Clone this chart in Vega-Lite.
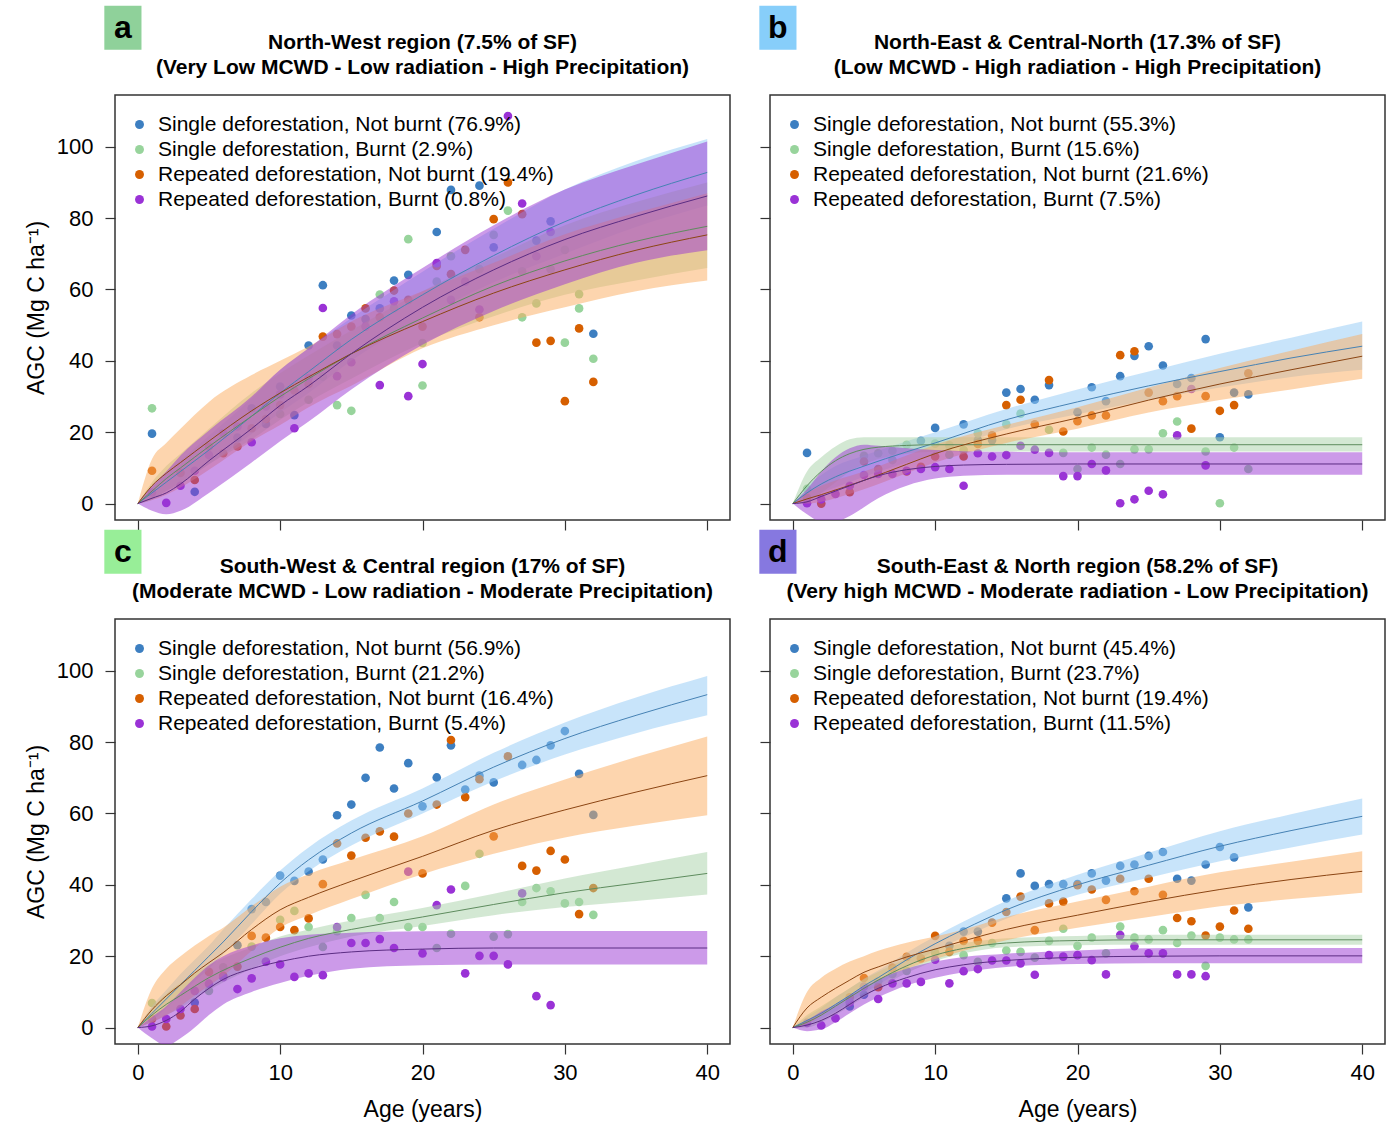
{
"$schema": "https://vega.github.io/schema/vega-lite/v6.json",
"background": "white",
"padding": {"left": 24, "top": 5, "right": 3, "bottom": 0},
"config": {
  "font": "Liberation Sans",
  "view": {"stroke": "#333333", "strokeWidth": 1.5},
  "axis": {"domain": false, "grid": false, "tickColor": "#333333", "tickWidth": 1.2, "tickSize": 10, "labelFontSize": 22, "labelFont": "Liberation Sans", "labelColor": "black", "titleFontSize": 23, "titleFont": "Liberation Sans", "titleFontWeight": "normal", "titleColor": "black"},
  "legend": {"orient": "none", "legendX": 14, "legendY": 19, "padding": 0, "rowPadding": 3, "labelFontSize": 21, "labelFont": "Liberation Sans", "labelColor": "black", "labelLimit": 700, "symbolSize": 80, "symbolType": "circle", "labelOffset": 8, "title": null}
},
"datasets": {
"pts": [
{"p":"a","g":"SN","age":1,"agc":19.6},{"p":"a","g":"SN","age":4,"agc":3.3},{"p":"a","g":"SN","age":7,"agc":18.5},{"p":"a","g":"SN","age":8,"agc":26.7},{"p":"a","g":"SN","age":9,"agc":22.3},{"p":"a","g":"SN","age":10,"agc":32.8},{"p":"a","g":"SN","age":11,"agc":24.8},{"p":"a","g":"SN","age":12,"agc":44.3},{"p":"a","g":"SN","age":13,"agc":61.2},{"p":"a","g":"SN","age":14,"agc":44.3},{"p":"a","g":"SN","age":15,"agc":52.7},{"p":"a","g":"SN","age":16,"agc":51.7},{"p":"a","g":"SN","age":17,"agc":54.7},{"p":"a","g":"SN","age":18,"agc":62.5},{"p":"a","g":"SN","age":19,"agc":64.1},{"p":"a","g":"SN","age":21,"agc":76.1},{"p":"a","g":"SN","age":22,"agc":87.9},{"p":"a","g":"SN","age":24,"agc":89.1},{"p":"a","g":"SN","age":25,"agc":71.8},{"p":"a","g":"SN","age":28,"agc":73.7},{"p":"a","g":"SN","age":29,"agc":79.1},{"p":"a","g":"SN","age":32,"agc":47.6},
{"p":"a","g":"SB","age":1,"agc":26.7},{"p":"a","g":"SB","age":10,"agc":25.1},{"p":"a","g":"SB","age":12,"agc":29.1},{"p":"a","g":"SB","age":13,"agc":35.6},{"p":"a","g":"SB","age":14,"agc":27.6},{"p":"a","g":"SB","age":15,"agc":26},{"p":"a","g":"SB","age":17,"agc":58.6},{"p":"a","g":"SB","age":18,"agc":54.7},{"p":"a","g":"SB","age":19,"agc":74.1},{"p":"a","g":"SB","age":20,"agc":33.1},{"p":"a","g":"SB","age":20,"agc":45},{"p":"a","g":"SB","age":21,"agc":62.2},{"p":"a","g":"SB","age":22,"agc":69.3},{"p":"a","g":"SB","age":24,"agc":65.7},{"p":"a","g":"SB","age":25,"agc":75.3},{"p":"a","g":"SB","age":26,"agc":82.1},{"p":"a","g":"SB","age":27,"agc":52.2},{"p":"a","g":"SB","age":27,"agc":65.1},{"p":"a","g":"SB","age":28,"agc":56.1},{"p":"a","g":"SB","age":29,"agc":65.7},{"p":"a","g":"SB","age":30,"agc":45.1},{"p":"a","g":"SB","age":30,"agc":71.1},{"p":"a","g":"SB","age":31,"agc":54.7},{"p":"a","g":"SB","age":31,"agc":58.7},{"p":"a","g":"SB","age":32,"agc":40.6},
{"p":"a","g":"RN","age":1,"agc":9.2},{"p":"a","g":"RN","age":3,"agc":8.6},{"p":"a","g":"RN","age":4,"agc":6.6},{"p":"a","g":"RN","age":5,"agc":16},{"p":"a","g":"RN","age":6,"agc":14.1},{"p":"a","g":"RN","age":7,"agc":16},{"p":"a","g":"RN","age":8,"agc":21.1},{"p":"a","g":"RN","age":9,"agc":23.7},{"p":"a","g":"RN","age":10,"agc":27.6},{"p":"a","g":"RN","age":11,"agc":31.7},{"p":"a","g":"RN","age":12,"agc":33.5},{"p":"a","g":"RN","age":13,"agc":46.8},{"p":"a","g":"RN","age":14,"agc":47.5},{"p":"a","g":"RN","age":15,"agc":49.6},{"p":"a","g":"RN","age":16,"agc":54.7},{"p":"a","g":"RN","age":17,"agc":52.2},{"p":"a","g":"RN","age":18,"agc":59.7},{"p":"a","g":"RN","age":19,"agc":57.1},{"p":"a","g":"RN","age":20,"agc":49.6},{"p":"a","g":"RN","age":21,"agc":66.6},{"p":"a","g":"RN","age":22,"agc":64.3},{"p":"a","g":"RN","age":23,"agc":71.1},{"p":"a","g":"RN","age":24,"agc":52.2},{"p":"a","g":"RN","age":25,"agc":79.7},{"p":"a","g":"RN","age":26,"agc":90},{"p":"a","g":"RN","age":27,"agc":81.1},{"p":"a","g":"RN","age":28,"agc":45.1},{"p":"a","g":"RN","age":29,"agc":45.6},{"p":"a","g":"RN","age":30,"agc":28.7},{"p":"a","g":"RN","age":31,"agc":49.1},{"p":"a","g":"RN","age":32,"agc":34.1},
{"p":"a","g":"RB","age":1,"agc":3.1},{"p":"a","g":"RB","age":2,"agc":0.2},{"p":"a","g":"RB","age":3,"agc":5},{"p":"a","g":"RB","age":4,"agc":9.2},{"p":"a","g":"RB","age":5,"agc":13.6},{"p":"a","g":"RB","age":6,"agc":19.7},{"p":"a","g":"RB","age":7,"agc":21.6},{"p":"a","g":"RB","age":8,"agc":17.2},{"p":"a","g":"RB","age":9,"agc":27.2},{"p":"a","g":"RB","age":10,"agc":30.6},{"p":"a","g":"RB","age":11,"agc":21.1},{"p":"a","g":"RB","age":12,"agc":35.2},{"p":"a","g":"RB","age":13,"agc":54.8},{"p":"a","g":"RB","age":14,"agc":35.7},{"p":"a","g":"RB","age":15,"agc":39.6},{"p":"a","g":"RB","age":16,"agc":49.6},{"p":"a","g":"RB","age":17,"agc":33.2},{"p":"a","g":"RB","age":18,"agc":56.7},{"p":"a","g":"RB","age":19,"agc":30.1},{"p":"a","g":"RB","age":20,"agc":39.1},{"p":"a","g":"RB","age":21,"agc":67.4},{"p":"a","g":"RB","age":22,"agc":57.1},{"p":"a","g":"RB","age":23,"agc":62.2},{"p":"a","g":"RB","age":24,"agc":54.4},{"p":"a","g":"RB","age":26,"agc":108.6},{"p":"a","g":"RB","age":27,"agc":84.1},{"p":"a","g":"RB","age":28,"agc":69.3},{"p":"a","g":"RB","age":29,"agc":76.1},
{"p":"b","g":"SN","age":1,"agc":14.2},{"p":"b","g":"SN","age":9,"agc":17.6},{"p":"b","g":"SN","age":10,"agc":21.2},{"p":"b","g":"SN","age":12,"agc":22.2},{"p":"b","g":"SN","age":13,"agc":17.8},{"p":"b","g":"SN","age":14,"agc":17.8},{"p":"b","g":"SN","age":15,"agc":31.1},{"p":"b","g":"SN","age":16,"agc":32.1},{"p":"b","g":"SN","age":17,"agc":29.1},{"p":"b","g":"SN","age":18,"agc":33.2},{"p":"b","g":"SN","age":20,"agc":25.6},{"p":"b","g":"SN","age":21,"agc":32.6},{"p":"b","g":"SN","age":22,"agc":28.7},{"p":"b","g":"SN","age":23,"agc":35.7},{"p":"b","g":"SN","age":24,"agc":41.4},{"p":"b","g":"SN","age":25,"agc":44.1},{"p":"b","g":"SN","age":26,"agc":38.7},{"p":"b","g":"SN","age":27,"agc":33.5},{"p":"b","g":"SN","age":28,"agc":35.2},{"p":"b","g":"SN","age":29,"agc":46.1},{"p":"b","g":"SN","age":30,"agc":18.6},{"p":"b","g":"SN","age":31,"agc":31.1},{"p":"b","g":"SN","age":32,"agc":30.6},
{"p":"b","g":"SB","age":1,"agc":4.1},{"p":"b","g":"SB","age":5,"agc":13.4},{"p":"b","g":"SB","age":6,"agc":14.1},{"p":"b","g":"SB","age":7,"agc":12.2},{"p":"b","g":"SB","age":7,"agc":14.8},{"p":"b","g":"SB","age":8,"agc":16.5},{"p":"b","g":"SB","age":10,"agc":16.8},{"p":"b","g":"SB","age":11,"agc":16.3},{"p":"b","g":"SB","age":11,"agc":13.7},{"p":"b","g":"SB","age":12,"agc":15},{"p":"b","g":"SB","age":13,"agc":19.7},{"p":"b","g":"SB","age":15,"agc":22.2},{"p":"b","g":"SB","age":16,"agc":25.2},{"p":"b","g":"SB","age":18,"agc":20.7},{"p":"b","g":"SB","age":19,"agc":14.2},{"p":"b","g":"SB","age":20,"agc":9.7},{"p":"b","g":"SB","age":21,"agc":15.7},{"p":"b","g":"SB","age":22,"agc":13.7},{"p":"b","g":"SB","age":23,"agc":11.1},{"p":"b","g":"SB","age":24,"agc":15.2},{"p":"b","g":"SB","age":25,"agc":15.2},{"p":"b","g":"SB","age":26,"agc":19.7},{"p":"b","g":"SB","age":27,"agc":23},{"p":"b","g":"SB","age":29,"agc":14.6},{"p":"b","g":"SB","age":30,"agc":0.1},{"p":"b","g":"SB","age":31,"agc":15.7},{"p":"b","g":"SB","age":32,"agc":9.7},
{"p":"b","g":"RN","age":1,"agc":1.6},{"p":"b","g":"RN","age":2,"agc":0},{"p":"b","g":"RN","age":4,"agc":3.2},{"p":"b","g":"RN","age":5,"agc":11.8},{"p":"b","g":"RN","age":6,"agc":9.7},{"p":"b","g":"RN","age":8,"agc":9},{"p":"b","g":"RN","age":9,"agc":10.3},{"p":"b","g":"RN","age":10,"agc":13.2},{"p":"b","g":"RN","age":12,"agc":13.2},{"p":"b","g":"RN","age":13,"agc":16.7},{"p":"b","g":"RN","age":14,"agc":19.1},{"p":"b","g":"RN","age":15,"agc":27.6},{"p":"b","g":"RN","age":16,"agc":29.1},{"p":"b","g":"RN","age":17,"agc":22.2},{"p":"b","g":"RN","age":18,"agc":34.6},{"p":"b","g":"RN","age":19,"agc":20.2},{"p":"b","g":"RN","age":20,"agc":23.1},{"p":"b","g":"RN","age":21,"agc":24.7},{"p":"b","g":"RN","age":22,"agc":24.7},{"p":"b","g":"RN","age":23,"agc":41.6},{"p":"b","g":"RN","age":24,"agc":42.7},{"p":"b","g":"RN","age":25,"agc":31.1},{"p":"b","g":"RN","age":26,"agc":28.7},{"p":"b","g":"RN","age":27,"agc":30.1},{"p":"b","g":"RN","age":28,"agc":21},{"p":"b","g":"RN","age":29,"agc":30.1},{"p":"b","g":"RN","age":30,"agc":26},{"p":"b","g":"RN","age":31,"agc":27.6},{"p":"b","g":"RN","age":32,"agc":36.5},
{"p":"b","g":"RB","age":1,"agc":0.1},{"p":"b","g":"RB","age":2,"agc":1.2},{"p":"b","g":"RB","age":3,"agc":2.7},{"p":"b","g":"RB","age":4,"agc":5},{"p":"b","g":"RB","age":5,"agc":8},{"p":"b","g":"RB","age":6,"agc":8.3},{"p":"b","g":"RB","age":7,"agc":8.3},{"p":"b","g":"RB","age":8,"agc":9.2},{"p":"b","g":"RB","age":9,"agc":9.7},{"p":"b","g":"RB","age":10,"agc":10.2},{"p":"b","g":"RB","age":11,"agc":9.7},{"p":"b","g":"RB","age":12,"agc":5},{"p":"b","g":"RB","age":13,"agc":14.1},{"p":"b","g":"RB","age":14,"agc":13.2},{"p":"b","g":"RB","age":15,"agc":13.6},{"p":"b","g":"RB","age":16,"agc":16.2},{"p":"b","g":"RB","age":17,"agc":15.1},{"p":"b","g":"RB","age":18,"agc":14.2},{"p":"b","g":"RB","age":19,"agc":7.7},{"p":"b","g":"RB","age":20,"agc":7.7},{"p":"b","g":"RB","age":21,"agc":11.1},{"p":"b","g":"RB","age":22,"agc":9.3},{"p":"b","g":"RB","age":23,"agc":0.1},{"p":"b","g":"RB","age":24,"agc":1.2},{"p":"b","g":"RB","age":25,"agc":3.6},{"p":"b","g":"RB","age":26,"agc":2.6},{"p":"b","g":"RB","age":27,"agc":19.1},{"p":"b","g":"RB","age":28,"agc":32.1},{"p":"b","g":"RB","age":29,"agc":10.7},
{"p":"c","g":"SN","age":4,"agc":7},{"p":"c","g":"SN","age":7,"agc":23.1},{"p":"c","g":"SN","age":8,"agc":33.2},{"p":"c","g":"SN","age":9,"agc":35.2},{"p":"c","g":"SN","age":10,"agc":42.6},{"p":"c","g":"SN","age":11,"agc":41.1},{"p":"c","g":"SN","age":12,"agc":43.7},{"p":"c","g":"SN","age":13,"agc":47.1},{"p":"c","g":"SN","age":14,"agc":59.5},{"p":"c","g":"SN","age":15,"agc":62.5},{"p":"c","g":"SN","age":16,"agc":70},{"p":"c","g":"SN","age":17,"agc":78.5},{"p":"c","g":"SN","age":18,"agc":67},{"p":"c","g":"SN","age":19,"agc":74.1},{"p":"c","g":"SN","age":20,"agc":62},{"p":"c","g":"SN","age":21,"agc":70.1},{"p":"c","g":"SN","age":22,"agc":79.1},{"p":"c","g":"SN","age":23,"agc":66.7},{"p":"c","g":"SN","age":24,"agc":70.6},{"p":"c","g":"SN","age":25,"agc":68.7},{"p":"c","g":"SN","age":27,"agc":73.6},{"p":"c","g":"SN","age":28,"agc":75},{"p":"c","g":"SN","age":29,"agc":79.1},{"p":"c","g":"SN","age":30,"agc":83.1},{"p":"c","g":"SN","age":31,"agc":71.1},{"p":"c","g":"SN","age":32,"agc":59.6},
{"p":"c","g":"SB","age":1,"agc":6.9},{"p":"c","g":"SB","age":5,"agc":10.3},{"p":"c","g":"SB","age":6,"agc":16.9},{"p":"c","g":"SB","age":8,"agc":22.7},{"p":"c","g":"SB","age":10,"agc":30.2},{"p":"c","g":"SB","age":11,"agc":32.7},{"p":"c","g":"SB","age":12,"agc":28.2},{"p":"c","g":"SB","age":13,"agc":22.6},{"p":"c","g":"SB","age":14,"agc":27},{"p":"c","g":"SB","age":15,"agc":30.7},{"p":"c","g":"SB","age":16,"agc":37.2},{"p":"c","g":"SB","age":17,"agc":30.7},{"p":"c","g":"SB","age":18,"agc":35.2},{"p":"c","g":"SB","age":19,"agc":28.2},{"p":"c","g":"SB","age":20,"agc":28.2},{"p":"c","g":"SB","age":21,"agc":22.3},{"p":"c","g":"SB","age":22,"agc":26.3},{"p":"c","g":"SB","age":23,"agc":39.7},{"p":"c","g":"SB","age":24,"agc":48.7},{"p":"c","g":"SB","age":25,"agc":25.5},{"p":"c","g":"SB","age":26,"agc":26.2},{"p":"c","g":"SB","age":27,"agc":35.2},{"p":"c","g":"SB","age":28,"agc":39.1},{"p":"c","g":"SB","age":29,"agc":38.2},{"p":"c","g":"SB","age":30,"agc":34.8},{"p":"c","g":"SB","age":31,"agc":35.2},{"p":"c","g":"SB","age":32,"agc":31.6},
{"p":"c","g":"RN","age":1,"agc":2.4},{"p":"c","g":"RN","age":2,"agc":0.3},{"p":"c","g":"RN","age":3,"agc":3.4},{"p":"c","g":"RN","age":4,"agc":5.2},{"p":"c","g":"RN","age":5,"agc":15.6},{"p":"c","g":"RN","age":6,"agc":14.5},{"p":"c","g":"RN","age":7,"agc":17.1},{"p":"c","g":"RN","age":8,"agc":25.7},{"p":"c","g":"RN","age":9,"agc":25.2},{"p":"c","g":"RN","age":10,"agc":28.2},{"p":"c","g":"RN","age":11,"agc":27.3},{"p":"c","g":"RN","age":12,"agc":30.6},{"p":"c","g":"RN","age":13,"agc":40.2},{"p":"c","g":"RN","age":14,"agc":51.6},{"p":"c","g":"RN","age":15,"agc":48.2},{"p":"c","g":"RN","age":16,"agc":53.2},{"p":"c","g":"RN","age":17,"agc":55},{"p":"c","g":"RN","age":18,"agc":53.5},{"p":"c","g":"RN","age":19,"agc":60},{"p":"c","g":"RN","age":20,"agc":43.2},{"p":"c","g":"RN","age":21,"agc":62.5},{"p":"c","g":"RN","age":22,"agc":80.6},{"p":"c","g":"RN","age":23,"agc":64.6},{"p":"c","g":"RN","age":24,"agc":69.6},{"p":"c","g":"RN","age":25,"agc":53.6},{"p":"c","g":"RN","age":26,"agc":76},{"p":"c","g":"RN","age":27,"agc":45.3},{"p":"c","g":"RN","age":28,"agc":44},{"p":"c","g":"RN","age":29,"agc":49.5},{"p":"c","g":"RN","age":30,"agc":47.1},{"p":"c","g":"RN","age":31,"agc":31.8},{"p":"c","g":"RN","age":32,"agc":39.1},
{"p":"c","g":"RB","age":1,"agc":0.3},{"p":"c","g":"RB","age":2,"agc":2.4},{"p":"c","g":"RB","age":3,"agc":5.2},{"p":"c","g":"RB","age":4,"agc":10.3},{"p":"c","g":"RB","age":5,"agc":12.3},{"p":"c","g":"RB","age":6,"agc":14.1},{"p":"c","g":"RB","age":7,"agc":10.8},{"p":"c","g":"RB","age":8,"agc":13.8},{"p":"c","g":"RB","age":9,"agc":18.5},{"p":"c","g":"RB","age":10,"agc":17.7},{"p":"c","g":"RB","age":11,"agc":14.2},{"p":"c","g":"RB","age":12,"agc":15.2},{"p":"c","g":"RB","age":13,"agc":14.7},{"p":"c","g":"RB","age":14,"agc":28.2},{"p":"c","g":"RB","age":15,"agc":23.7},{"p":"c","g":"RB","age":16,"agc":23.7},{"p":"c","g":"RB","age":17,"agc":24.8},{"p":"c","g":"RB","age":18,"agc":22.3},{"p":"c","g":"RB","age":19,"agc":43.7},{"p":"c","g":"RB","age":20,"agc":20.8},{"p":"c","g":"RB","age":21,"agc":34.3},{"p":"c","g":"RB","age":22,"agc":38.7},{"p":"c","g":"RB","age":23,"agc":15.2},{"p":"c","g":"RB","age":24,"agc":20.1},{"p":"c","g":"RB","age":25,"agc":20.1},{"p":"c","g":"RB","age":26,"agc":17.7},{"p":"c","g":"RB","age":27,"agc":37.6},{"p":"c","g":"RB","age":28,"agc":8.8},{"p":"c","g":"RB","age":29,"agc":6.3},
{"p":"d","g":"SN","age":4,"agc":5.9},{"p":"d","g":"SN","age":5,"agc":9.2},{"p":"d","g":"SN","age":11,"agc":22.9},{"p":"d","g":"SN","age":12,"agc":26.9},{"p":"d","g":"SN","age":13,"agc":26.9},{"p":"d","g":"SN","age":15,"agc":36.2},{"p":"d","g":"SN","age":16,"agc":43.2},{"p":"d","g":"SN","age":17,"agc":39.7},{"p":"d","g":"SN","age":18,"agc":40.2},{"p":"d","g":"SN","age":19,"agc":40.2},{"p":"d","g":"SN","age":20,"agc":40.2},{"p":"d","g":"SN","age":21,"agc":43.2},{"p":"d","g":"SN","age":22,"agc":41.2},{"p":"d","g":"SN","age":23,"agc":45.3},{"p":"d","g":"SN","age":24,"agc":45.7},{"p":"d","g":"SN","age":25,"agc":48.1},{"p":"d","g":"SN","age":26,"agc":49.2},{"p":"d","g":"SN","age":27,"agc":41.7},{"p":"d","g":"SN","age":28,"agc":41.2},{"p":"d","g":"SN","age":29,"agc":45.7},{"p":"d","g":"SN","age":30,"agc":50.6},{"p":"d","g":"SN","age":31,"agc":47.7},{"p":"d","g":"SN","age":32,"agc":33.7},
{"p":"d","g":"SB","age":6,"agc":13},{"p":"d","g":"SB","age":7,"agc":15},{"p":"d","g":"SB","age":8,"agc":15.9},{"p":"d","g":"SB","age":10,"agc":21},{"p":"d","g":"SB","age":12,"agc":20.3},{"p":"d","g":"SB","age":13,"agc":18.4},{"p":"d","g":"SB","age":14,"agc":23.7},{"p":"d","g":"SB","age":15,"agc":21.6},{"p":"d","g":"SB","age":16,"agc":21.2},{"p":"d","g":"SB","age":17,"agc":19.6},{"p":"d","g":"SB","age":18,"agc":24.3},{"p":"d","g":"SB","age":19,"agc":27.7},{"p":"d","g":"SB","age":20,"agc":22.9},{"p":"d","g":"SB","age":21,"agc":25.2},{"p":"d","g":"SB","age":22,"agc":20.8},{"p":"d","g":"SB","age":23,"agc":28.3},{"p":"d","g":"SB","age":24,"agc":25.2},{"p":"d","g":"SB","age":25,"agc":24.7},{"p":"d","g":"SB","age":26,"agc":27.3},{"p":"d","g":"SB","age":27,"agc":23.7},{"p":"d","g":"SB","age":28,"agc":25.8},{"p":"d","g":"SB","age":29,"agc":17.3},{"p":"d","g":"SB","age":30,"agc":25.2},{"p":"d","g":"SB","age":31,"agc":24.7},{"p":"d","g":"SB","age":32,"agc":24.7},
{"p":"d","g":"RN","age":4,"agc":8.5},{"p":"d","g":"RN","age":5,"agc":13.9},{"p":"d","g":"RN","age":6,"agc":11.3},{"p":"d","g":"RN","age":7,"agc":16.8},{"p":"d","g":"RN","age":8,"agc":19.8},{"p":"d","g":"RN","age":9,"agc":19.4},{"p":"d","g":"RN","age":10,"agc":25.7},{"p":"d","g":"RN","age":11,"agc":21.2},{"p":"d","g":"RN","age":12,"agc":24.3},{"p":"d","g":"RN","age":13,"agc":24.3},{"p":"d","g":"RN","age":14,"agc":29.4},{"p":"d","g":"RN","age":15,"agc":32.4},{"p":"d","g":"RN","age":16,"agc":36.7},{"p":"d","g":"RN","age":17,"agc":27.3},{"p":"d","g":"RN","age":18,"agc":34.8},{"p":"d","g":"RN","age":19,"agc":35.3},{"p":"d","g":"RN","age":20,"agc":39.9},{"p":"d","g":"RN","age":21,"agc":38.7},{"p":"d","g":"RN","age":22,"agc":35.8},{"p":"d","g":"RN","age":23,"agc":41.7},{"p":"d","g":"RN","age":24,"agc":38.2},{"p":"d","g":"RN","age":25,"agc":41.7},{"p":"d","g":"RN","age":26,"agc":37.2},{"p":"d","g":"RN","age":27,"agc":30.7},{"p":"d","g":"RN","age":28,"agc":29.8},{"p":"d","g":"RN","age":29,"agc":25.8},{"p":"d","g":"RN","age":30,"agc":28.3},{"p":"d","g":"RN","age":31,"agc":32.8},{"p":"d","g":"RN","age":32,"agc":27.7},
{"p":"d","g":"RB","age":1,"agc":1.3},{"p":"d","g":"RB","age":2,"agc":0.6},{"p":"d","g":"RB","age":3,"agc":2.6},{"p":"d","g":"RB","age":4,"agc":7.1},{"p":"d","g":"RB","age":5,"agc":11.5},{"p":"d","g":"RB","age":6,"agc":8},{"p":"d","g":"RB","age":7,"agc":12.4},{"p":"d","g":"RB","age":8,"agc":12.4},{"p":"d","g":"RB","age":9,"agc":12.8},{"p":"d","g":"RB","age":10,"agc":19},{"p":"d","g":"RB","age":11,"agc":12.4},{"p":"d","g":"RB","age":12,"agc":15.8},{"p":"d","g":"RB","age":13,"agc":16.4},{"p":"d","g":"RB","age":14,"agc":18.8},{"p":"d","g":"RB","age":15,"agc":18.8},{"p":"d","g":"RB","age":16,"agc":18},{"p":"d","g":"RB","age":17,"agc":14.8},{"p":"d","g":"RB","age":18,"agc":20.3},{"p":"d","g":"RB","age":19,"agc":19.9},{"p":"d","g":"RB","age":20,"agc":20.3},{"p":"d","g":"RB","age":21,"agc":18.9},{"p":"d","g":"RB","age":22,"agc":14.9},{"p":"d","g":"RB","age":23,"agc":25.9},{"p":"d","g":"RB","age":24,"agc":22.8},{"p":"d","g":"RB","age":25,"agc":20.8},{"p":"d","g":"RB","age":26,"agc":20.8},{"p":"d","g":"RB","age":27,"agc":14.9},{"p":"d","g":"RB","age":28,"agc":14.9},{"p":"d","g":"RB","age":29,"agc":14.4}
],
"cur": [
{"p":"a","g":"SN","age":0,"m":0,"lo":0,"hi":0},{"p":"a","g":"SN","age":1,"m":3,"lo":1.5,"hi":4.5},{"p":"a","g":"SN","age":2,"m":6,"lo":3.5,"hi":8.5},{"p":"a","g":"SN","age":3,"m":9,"lo":6,"hi":12},{"p":"a","g":"SN","age":5,"m":15,"lo":11,"hi":19},{"p":"a","g":"SN","age":8,"m":24.5,"lo":19.5,"hi":29.5},{"p":"a","g":"SN","age":10,"m":31,"lo":25.5,"hi":37.5},{"p":"a","g":"SN","age":12,"m":37,"lo":31,"hi":43.5},{"p":"a","g":"SN","age":15,"m":46,"lo":40,"hi":52},{"p":"a","g":"SN","age":20,"m":58.5,"lo":52,"hi":65},{"p":"a","g":"SN","age":25,"m":69.5,"lo":62,"hi":77},{"p":"a","g":"SN","age":30,"m":79,"lo":70,"hi":88},{"p":"a","g":"SN","age":35,"m":86.5,"lo":77.5,"hi":96},{"p":"a","g":"SN","age":40,"m":92.8,"lo":83.5,"hi":102.2},
{"p":"a","g":"SB","age":0,"m":0,"lo":0,"hi":0},{"p":"a","g":"SB","age":1,"m":3.5,"lo":1,"hi":6},{"p":"a","g":"SB","age":2,"m":7,"lo":3.5,"hi":10.5},{"p":"a","g":"SB","age":3,"m":10,"lo":5.5,"hi":14},{"p":"a","g":"SB","age":5,"m":16,"lo":11,"hi":21},{"p":"a","g":"SB","age":8,"m":24.5,"lo":18,"hi":31},{"p":"a","g":"SB","age":10,"m":30,"lo":23.5,"hi":36.5},{"p":"a","g":"SB","age":12,"m":35,"lo":28.5,"hi":41.5},{"p":"a","g":"SB","age":15,"m":42,"lo":35,"hi":48.5},{"p":"a","g":"SB","age":20,"m":52,"lo":45,"hi":59.5},{"p":"a","g":"SB","age":25,"m":61,"lo":52.5,"hi":69},{"p":"a","g":"SB","age":30,"m":68,"lo":58.5,"hi":78},{"p":"a","g":"SB","age":35,"m":73.5,"lo":62.5,"hi":84.5},{"p":"a","g":"SB","age":40,"m":77.7,"lo":66,"hi":90},
{"p":"a","g":"RN","age":0,"m":0,"lo":0,"hi":0},{"p":"a","g":"RN","age":1,"m":5,"lo":1,"hi":12.5},{"p":"a","g":"RN","age":2,"m":8.5,"lo":2.5,"hi":17},{"p":"a","g":"RN","age":3,"m":11.5,"lo":4.5,"hi":21},{"p":"a","g":"RN","age":5,"m":17.5,"lo":9.5,"hi":28.5},{"p":"a","g":"RN","age":8,"m":26,"lo":17.5,"hi":36},{"p":"a","g":"RN","age":10,"m":31,"lo":22,"hi":40},{"p":"a","g":"RN","age":12,"m":35.5,"lo":27,"hi":44},{"p":"a","g":"RN","age":15,"m":42,"lo":33,"hi":51},{"p":"a","g":"RN","age":20,"m":51,"lo":43.5,"hi":59.5},{"p":"a","g":"RN","age":25,"m":59,"lo":50,"hi":67.5},{"p":"a","g":"RN","age":30,"m":65.5,"lo":55,"hi":75.5},{"p":"a","g":"RN","age":35,"m":71,"lo":59.5,"hi":81.5},{"p":"a","g":"RN","age":40,"m":75.3,"lo":62.5,"hi":87},
{"p":"a","g":"RB","age":0,"m":0,"lo":0,"hi":0},{"p":"a","g":"RB","age":1,"m":1.5,"lo":-2,"hi":5},{"p":"a","g":"RB","age":2,"m":3,"lo":-3,"hi":9},{"p":"a","g":"RB","age":3,"m":5.5,"lo":-2,"hi":13.5},{"p":"a","g":"RB","age":5,"m":12,"lo":3,"hi":20.5},{"p":"a","g":"RB","age":8,"m":21,"lo":11.5,"hi":30},{"p":"a","g":"RB","age":10,"m":27.5,"lo":17.5,"hi":37.5},{"p":"a","g":"RB","age":12,"m":33,"lo":23,"hi":43.5},{"p":"a","g":"RB","age":15,"m":42,"lo":32,"hi":53},{"p":"a","g":"RB","age":20,"m":55,"lo":44.5,"hi":66},{"p":"a","g":"RB","age":25,"m":65.5,"lo":54,"hi":78},{"p":"a","g":"RB","age":30,"m":74,"lo":61.5,"hi":88},{"p":"a","g":"RB","age":35,"m":80.5,"lo":67.5,"hi":95},{"p":"a","g":"RB","age":40,"m":86.2,"lo":71,"hi":101.5},
{"p":"b","g":"SN","age":0,"m":0,"lo":0,"hi":0},{"p":"b","g":"SN","age":1,"m":3,"lo":1,"hi":5},{"p":"b","g":"SN","age":2,"m":5.5,"lo":3,"hi":8},{"p":"b","g":"SN","age":3,"m":7.5,"lo":4.5,"hi":10.5},{"p":"b","g":"SN","age":5,"m":10.5,"lo":7.5,"hi":13.5},{"p":"b","g":"SN","age":8,"m":14.5,"lo":11.5,"hi":17.5},{"p":"b","g":"SN","age":10,"m":17,"lo":14,"hi":20},{"p":"b","g":"SN","age":15,"m":23.5,"lo":20.8,"hi":26.5},{"p":"b","g":"SN","age":20,"m":28.5,"lo":25,"hi":32},{"p":"b","g":"SN","age":25,"m":33,"lo":29,"hi":37},{"p":"b","g":"SN","age":30,"m":37,"lo":32.5,"hi":42},{"p":"b","g":"SN","age":35,"m":40.8,"lo":35.5,"hi":46.5},{"p":"b","g":"SN","age":40,"m":44.1,"lo":37.5,"hi":51},
{"p":"b","g":"SB","age":0,"m":0,"lo":0,"hi":0},{"p":"b","g":"SB","age":1,"m":5,"lo":0.5,"hi":9},{"p":"b","g":"SB","age":2,"m":9,"lo":3,"hi":13},{"p":"b","g":"SB","age":3,"m":12,"lo":6,"hi":16},{"p":"b","g":"SB","age":4,"m":14,"lo":9,"hi":18},{"p":"b","g":"SB","age":5,"m":15.2,"lo":11,"hi":18.6},{"p":"b","g":"SB","age":6,"m":15.8,"lo":12.5,"hi":18.6},{"p":"b","g":"SB","age":8,"m":16.3,"lo":14,"hi":18.6},{"p":"b","g":"SB","age":10,"m":16.5,"lo":14.5,"hi":18.6},{"p":"b","g":"SB","age":15,"m":16.5,"lo":14.6,"hi":18.6},{"p":"b","g":"SB","age":40,"m":16.5,"lo":14.6,"hi":18.6},
{"p":"b","g":"RN","age":0,"m":0,"lo":0,"hi":0},{"p":"b","g":"RN","age":1,"m":1.3,"lo":0,"hi":3},{"p":"b","g":"RN","age":2,"m":2.5,"lo":0.5,"hi":5},{"p":"b","g":"RN","age":3,"m":3.8,"lo":1.5,"hi":6.5},{"p":"b","g":"RN","age":5,"m":6.5,"lo":4,"hi":9},{"p":"b","g":"RN","age":8,"m":11,"lo":8.5,"hi":13.5},{"p":"b","g":"RN","age":10,"m":14,"lo":11.5,"hi":16.5},{"p":"b","g":"RN","age":15,"m":19.5,"lo":17,"hi":22},{"p":"b","g":"RN","age":20,"m":24,"lo":21,"hi":27},{"p":"b","g":"RN","age":25,"m":29,"lo":25.5,"hi":32.5},{"p":"b","g":"RN","age":30,"m":33.5,"lo":29,"hi":38},{"p":"b","g":"RN","age":35,"m":37.5,"lo":32,"hi":42.8},{"p":"b","g":"RN","age":40,"m":41.3,"lo":35,"hi":47.5},
{"p":"b","g":"RB","age":0,"m":0,"lo":0,"hi":0},{"p":"b","g":"RB","age":1,"m":0.5,"lo":-3,"hi":4},{"p":"b","g":"RB","age":2,"m":2,"lo":-5,"hi":9},{"p":"b","g":"RB","age":3,"m":3.5,"lo":-5,"hi":13},{"p":"b","g":"RB","age":4,"m":5,"lo":-3.5,"hi":15.5},{"p":"b","g":"RB","age":5,"m":6.5,"lo":-1,"hi":16.5},{"p":"b","g":"RB","age":6,"m":7.8,"lo":1.5,"hi":16.2},{"p":"b","g":"RB","age":8,"m":9.5,"lo":5,"hi":15.5},{"p":"b","g":"RB","age":10,"m":10.4,"lo":7,"hi":15},{"p":"b","g":"RB","age":12,"m":10.8,"lo":7.8,"hi":14.7},{"p":"b","g":"RB","age":15,"m":11,"lo":8.1,"hi":14.5},{"p":"b","g":"RB","age":20,"m":11.1,"lo":8.1,"hi":14.4},{"p":"b","g":"RB","age":40,"m":11.1,"lo":8.1,"hi":14.4},
{"p":"c","g":"SN","age":0,"m":0,"lo":0,"hi":0},{"p":"c","g":"SN","age":1,"m":4,"lo":2,"hi":6},{"p":"c","g":"SN","age":2,"m":8,"lo":5.5,"hi":10.5},{"p":"c","g":"SN","age":3,"m":12,"lo":9,"hi":15},{"p":"c","g":"SN","age":4,"m":16,"lo":13,"hi":19},{"p":"c","g":"SN","age":5,"m":20,"lo":16.5,"hi":23},{"p":"c","g":"SN","age":6,"m":24,"lo":20.5,"hi":27.5},{"p":"c","g":"SN","age":8,"m":32.5,"lo":29,"hi":36},{"p":"c","g":"SN","age":10,"m":40.5,"lo":37.5,"hi":44},{"p":"c","g":"SN","age":12,"m":47,"lo":43.8,"hi":50.5},{"p":"c","g":"SN","age":15,"m":54.5,"lo":51,"hi":58},{"p":"c","g":"SN","age":20,"m":63.5,"lo":60,"hi":67},{"p":"c","g":"SN","age":25,"m":73,"lo":69,"hi":77},{"p":"c","g":"SN","age":30,"m":81,"lo":76.5,"hi":85.5},{"p":"c","g":"SN","age":35,"m":87.5,"lo":82.5,"hi":92.5},{"p":"c","g":"SN","age":40,"m":93.3,"lo":87.5,"hi":98.5},
{"p":"c","g":"SB","age":0,"m":0,"lo":0,"hi":0},{"p":"c","g":"SB","age":1,"m":3.5,"lo":1.5,"hi":5.5},{"p":"c","g":"SB","age":2,"m":6.5,"lo":3.5,"hi":9.5},{"p":"c","g":"SB","age":3,"m":9,"lo":5.5,"hi":12.5},{"p":"c","g":"SB","age":5,"m":14,"lo":10.5,"hi":17.5},{"p":"c","g":"SB","age":8,"m":19.5,"lo":16.5,"hi":22.5},{"p":"c","g":"SB","age":10,"m":22.5,"lo":20,"hi":25.5},{"p":"c","g":"SB","age":12,"m":25,"lo":22.5,"hi":27.5},{"p":"c","g":"SB","age":15,"m":27.5,"lo":25.5,"hi":30},{"p":"c","g":"SB","age":20,"m":31,"lo":28.5,"hi":33.5},{"p":"c","g":"SB","age":25,"m":34.5,"lo":31.5,"hi":37.5},{"p":"c","g":"SB","age":30,"m":37.8,"lo":33.8,"hi":41.8},{"p":"c","g":"SB","age":35,"m":40.5,"lo":35.5,"hi":45.5},{"p":"c","g":"SB","age":40,"m":43.2,"lo":37.3,"hi":49.2},
{"p":"c","g":"RN","age":0,"m":0,"lo":0,"hi":0},{"p":"c","g":"RN","age":1,"m":5,"lo":1.5,"hi":11},{"p":"c","g":"RN","age":2,"m":8.9,"lo":3.4,"hi":16.5},{"p":"c","g":"RN","age":3,"m":12,"lo":6,"hi":20},{"p":"c","g":"RN","age":4,"m":15.3,"lo":9,"hi":23},{"p":"c","g":"RN","age":5,"m":18.2,"lo":11.7,"hi":25.7},{"p":"c","g":"RN","age":6,"m":21,"lo":14.5,"hi":28},{"p":"c","g":"RN","age":8,"m":27.5,"lo":21.5,"hi":34},{"p":"c","g":"RN","age":10,"m":33,"lo":28,"hi":39.5},{"p":"c","g":"RN","age":12,"m":36.5,"lo":31.5,"hi":43},{"p":"c","g":"RN","age":15,"m":41,"lo":36,"hi":47},{"p":"c","g":"RN","age":20,"m":48,"lo":43,"hi":53.6},{"p":"c","g":"RN","age":25,"m":55.3,"lo":48.7,"hi":62.5},{"p":"c","g":"RN","age":30,"m":61,"lo":53.3,"hi":69.5},{"p":"c","g":"RN","age":35,"m":66,"lo":56.6,"hi":75.8},{"p":"c","g":"RN","age":40,"m":70.6,"lo":59.5,"hi":81.6},
{"p":"c","g":"RB","age":0,"m":0,"lo":0,"hi":0},{"p":"c","g":"RB","age":1,"m":0.5,"lo":-3,"hi":3},{"p":"c","g":"RB","age":2,"m":2,"lo":-5,"hi":6},{"p":"c","g":"RB","age":3,"m":4.5,"lo":-3,"hi":10},{"p":"c","g":"RB","age":4,"m":8,"lo":0,"hi":14},{"p":"c","g":"RB","age":5,"m":11,"lo":3.5,"hi":17.5},{"p":"c","g":"RB","age":6,"m":13.5,"lo":6.5,"hi":20},{"p":"c","g":"RB","age":8,"m":16.5,"lo":10,"hi":23},{"p":"c","g":"RB","age":10,"m":18.5,"lo":12.5,"hi":25},{"p":"c","g":"RB","age":12,"m":20,"lo":14.5,"hi":26},{"p":"c","g":"RB","age":15,"m":21.2,"lo":16.5,"hi":26.6},{"p":"c","g":"RB","age":20,"m":22,"lo":17.5,"hi":27},{"p":"c","g":"RB","age":25,"m":22.3,"lo":17.7,"hi":27.1},{"p":"c","g":"RB","age":40,"m":22.3,"lo":17.7,"hi":27.1},
{"p":"d","g":"SN","age":0,"m":0,"lo":0,"hi":0},{"p":"d","g":"SN","age":1,"m":2,"lo":1,"hi":3},{"p":"d","g":"SN","age":2,"m":4,"lo":2.5,"hi":5.5},{"p":"d","g":"SN","age":3,"m":6.5,"lo":4.5,"hi":8.5},{"p":"d","g":"SN","age":4,"m":9,"lo":7,"hi":11},{"p":"d","g":"SN","age":5,"m":11.7,"lo":9.7,"hi":13.7},{"p":"d","g":"SN","age":6,"m":14,"lo":12,"hi":16},{"p":"d","g":"SN","age":8,"m":19,"lo":17,"hi":21},{"p":"d","g":"SN","age":10,"m":23.5,"lo":21.5,"hi":25.5},{"p":"d","g":"SN","age":12,"m":27.5,"lo":25.3,"hi":29.7},{"p":"d","g":"SN","age":15,"m":33,"lo":30.5,"hi":35.5},{"p":"d","g":"SN","age":20,"m":40,"lo":37.2,"hi":42.8},{"p":"d","g":"SN","age":25,"m":45.5,"lo":42,"hi":49},{"p":"d","g":"SN","age":30,"m":50.8,"lo":46.6,"hi":55},{"p":"d","g":"SN","age":35,"m":55.2,"lo":50.5,"hi":59.8},{"p":"d","g":"SN","age":40,"m":59.2,"lo":54.1,"hi":64.2},
{"p":"d","g":"SB","age":0,"m":0,"lo":0,"hi":0},{"p":"d","g":"SB","age":1,"m":1.5,"lo":0,"hi":3.5},{"p":"d","g":"SB","age":2,"m":3.5,"lo":1.5,"hi":6},{"p":"d","g":"SB","age":3,"m":6,"lo":3.5,"hi":8.5},{"p":"d","g":"SB","age":4,"m":8.5,"lo":6,"hi":11},{"p":"d","g":"SB","age":5,"m":11,"lo":8.5,"hi":13.5},{"p":"d","g":"SB","age":6,"m":13.3,"lo":11,"hi":15.6},{"p":"d","g":"SB","age":8,"m":17.3,"lo":15.3,"hi":19.3},{"p":"d","g":"SB","age":10,"m":20.3,"lo":18.6,"hi":22},{"p":"d","g":"SB","age":12,"m":22.2,"lo":20.8,"hi":23.6},{"p":"d","g":"SB","age":15,"m":23.7,"lo":22.5,"hi":25},{"p":"d","g":"SB","age":20,"m":24.4,"lo":23.1,"hi":25.7},{"p":"d","g":"SB","age":25,"m":24.6,"lo":23.2,"hi":26},{"p":"d","g":"SB","age":40,"m":24.6,"lo":23.2,"hi":26},
{"p":"d","g":"RN","age":0,"m":0,"lo":0,"hi":0},{"p":"d","g":"RN","age":1,"m":5.5,"lo":1,"hi":10},{"p":"d","g":"RN","age":2,"m":8.5,"lo":3.5,"hi":14},{"p":"d","g":"RN","age":3,"m":11,"lo":6.5,"hi":16.5},{"p":"d","g":"RN","age":4,"m":13.3,"lo":9,"hi":18.5},{"p":"d","g":"RN","age":5,"m":15.5,"lo":11.5,"hi":20},{"p":"d","g":"RN","age":6,"m":17,"lo":13.5,"hi":21.5},{"p":"d","g":"RN","age":8,"m":19.8,"lo":16.5,"hi":23.8},{"p":"d","g":"RN","age":10,"m":22,"lo":19.2,"hi":25.5},{"p":"d","g":"RN","age":12,"m":24.3,"lo":21.5,"hi":27.5},{"p":"d","g":"RN","age":15,"m":27.5,"lo":24.5,"hi":31},{"p":"d","g":"RN","age":20,"m":31.5,"lo":28,"hi":35.3},{"p":"d","g":"RN","age":25,"m":35.3,"lo":31,"hi":39.5},{"p":"d","g":"RN","age":30,"m":38.7,"lo":34,"hi":43.5},{"p":"d","g":"RN","age":35,"m":41.5,"lo":36,"hi":46.5},{"p":"d","g":"RN","age":40,"m":43.8,"lo":37.8,"hi":49.4},
{"p":"d","g":"RB","age":0,"m":0,"lo":0,"hi":0},{"p":"d","g":"RB","age":1,"m":0.7,"lo":-1,"hi":2},{"p":"d","g":"RB","age":2,"m":2,"lo":-0.5,"hi":4.5},{"p":"d","g":"RB","age":3,"m":4,"lo":1.5,"hi":6.5},{"p":"d","g":"RB","age":4,"m":6.5,"lo":4,"hi":9},{"p":"d","g":"RB","age":5,"m":9,"lo":6.5,"hi":11.5},{"p":"d","g":"RB","age":6,"m":11,"lo":8.5,"hi":13.5},{"p":"d","g":"RB","age":8,"m":14,"lo":11.8,"hi":16.5},{"p":"d","g":"RB","age":10,"m":16.2,"lo":14,"hi":18.5},{"p":"d","g":"RB","age":12,"m":17.6,"lo":15.5,"hi":19.8},{"p":"d","g":"RB","age":15,"m":18.8,"lo":17,"hi":20.7},{"p":"d","g":"RB","age":20,"m":19.7,"lo":17.8,"hi":21.6},{"p":"d","g":"RB","age":25,"m":20,"lo":18,"hi":22.2},{"p":"d","g":"RB","age":30,"m":20.1,"lo":18,"hi":22.3},{"p":"d","g":"RB","age":40,"m":20.1,"lo":18,"hi":22.3}
]
},
"columns": 2,
"spacing": {"row": 99, "column": 40},
"bounds": "flush",
"resolve": {"scale": {"color": "independent"}, "legend": {"color": "independent"}},
"concat": [
{
 "width": 615, "height": 425,
 "layer": [
  {"data": {"name": "pts"}, "transform": [{"filter": "datum.p=='a'"}],
   "mark": {"type": "point", "filled": true, "size": 75, "opacity": 1},
   "encoding": {
    "x": {"field": "age", "type": "quantitative", "scale": {"domain": [-1.6, 41.6], "nice": false, "zero": false}, "axis": {"values": [0,10,20,30,40], "labels": false, "title": null}},
    "y": {"field": "agc", "type": "quantitative", "scale": {"domain": [-4.6, 114.5], "nice": false, "zero": false}, "axis": {"values": [0,20,40,60,80,100], "title": "AGC (Mg C ha⁻¹)", "labelPadding": 12, "titlePadding": 8}},
    "color": {"field": "g", "type": "nominal", "scale": {"domain": ["SN","SB","RN","RB"], "range": ["#3d7fc1","#98d49c","#d65f00","#9a32d6"]},
     "legend": {"labelExpr": "datum.label=='SN' ? 'Single deforestation, Not burnt (76.9%)' : datum.label=='SB' ? 'Single deforestation, Burnt (2.9%)' : datum.label=='RN' ? 'Repeated deforestation, Not burnt (19.4%)' : 'Repeated deforestation, Burnt (0.8%)'"}}
   }},
  {"data": {"name": "cur"}, "transform": [{"filter": "datum.p=='a'"}],
   "mark": {"type": "area", "clip": true, "opacity": 0.5, "interpolate": "monotone"},
   "encoding": {"x": {"field": "age", "type": "quantitative"}, "y": {"field": "lo", "type": "quantitative"}, "y2": {"field": "hi"},
    "fill": {"field": "g", "type": "nominal", "scale": {"domain": ["SN","SB","RN","RB"], "range": ["#92c9f5","#a8d2a8","#fcac5e","#9a35d4"]}, "legend": null}}},
  {"data": {"name": "cur"}, "transform": [{"filter": "datum.p=='a'"}],
   "mark": {"type": "line", "clip": true, "strokeWidth": 1, "interpolate": "monotone"},
   "encoding": {"x": {"field": "age", "type": "quantitative"}, "y": {"field": "m", "type": "quantitative"},
    "stroke": {"field": "g", "type": "nominal", "scale": {"domain": ["SN","SB","RN","RB"], "range": ["#4682b4","#5e8c5e","#8b4513","#5b2c83"]}, "legend": null}}},
  {"data": {"values": [{}]}, "mark": {"type": "rect", "fill": "#8fd19a"},
   "encoding": {"x": {"datum": -2.35}, "x2": {"datum": 0.26}, "y": {"datum": 139.5}, "y2": {"datum": 127.2}}},
  {"data": {"values": [{}]}, "mark": {"type": "text", "text": "a", "fontSize": 32, "fontWeight": "bold", "color": "black", "align": "center", "baseline": "middle"},
   "encoding": {"x": {"datum": -1.05}, "y": {"datum": 133.3}}},
  {"data": {"values": [{}]}, "mark": {"type": "text", "text": "North-West region (7.5% of SF)", "fontSize": 21, "fontWeight": "bold", "color": "black", "align": "center", "baseline": "middle"},
   "encoding": {"x": {"datum": 20}, "y": {"datum": 129.2}}},
  {"data": {"values": [{}]}, "mark": {"type": "text", "text": "(Very Low MCWD - Low radiation - High Precipitation)", "fontSize": 21, "fontWeight": "bold", "color": "black", "align": "center", "baseline": "middle"},
   "encoding": {"x": {"datum": 20}, "y": {"datum": 122.2}}}
 ]
},
{
 "width": 615, "height": 425,
 "layer": [
  {"data": {"name": "pts"}, "transform": [{"filter": "datum.p=='b'"}],
   "mark": {"type": "point", "filled": true, "size": 75, "opacity": 1},
   "encoding": {
    "x": {"field": "age", "type": "quantitative", "scale": {"domain": [-1.6, 41.6], "nice": false, "zero": false}, "axis": {"values": [0,10,20,30,40], "labels": false, "title": null}},
    "y": {"field": "agc", "type": "quantitative", "scale": {"domain": [-4.6, 114.5], "nice": false, "zero": false}, "axis": {"values": [0,20,40,60,80,100], "labels": false, "title": null}},
    "color": {"field": "g", "type": "nominal", "scale": {"domain": ["SN","SB","RN","RB"], "range": ["#3d7fc1","#98d49c","#d65f00","#9a32d6"]},
     "legend": {"labelExpr": "datum.label=='SN' ? 'Single deforestation, Not burnt (55.3%)' : datum.label=='SB' ? 'Single deforestation, Burnt (15.6%)' : datum.label=='RN' ? 'Repeated deforestation, Not burnt (21.6%)' : 'Repeated deforestation, Burnt (7.5%)'"}}
   }},
  {"data": {"name": "cur"}, "transform": [{"filter": "datum.p=='b'"}],
   "mark": {"type": "area", "clip": true, "opacity": 0.5, "interpolate": "monotone"},
   "encoding": {"x": {"field": "age", "type": "quantitative"}, "y": {"field": "lo", "type": "quantitative"}, "y2": {"field": "hi"},
    "fill": {"field": "g", "type": "nominal", "scale": {"domain": ["SN","SB","RN","RB"], "range": ["#92c9f5","#a8d2a8","#fcac5e","#9a35d4"]}, "legend": null}}},
  {"data": {"name": "cur"}, "transform": [{"filter": "datum.p=='b'"}],
   "mark": {"type": "line", "clip": true, "strokeWidth": 1, "interpolate": "monotone"},
   "encoding": {"x": {"field": "age", "type": "quantitative"}, "y": {"field": "m", "type": "quantitative"},
    "stroke": {"field": "g", "type": "nominal", "scale": {"domain": ["SN","SB","RN","RB"], "range": ["#4682b4","#5e8c5e","#8b4513","#5b2c83"]}, "legend": null}}},
  {"data": {"values": [{}]}, "mark": {"type": "rect", "fill": "#87cefa"},
   "encoding": {"x": {"datum": -2.35}, "x2": {"datum": 0.26}, "y": {"datum": 139.5}, "y2": {"datum": 127.2}}},
  {"data": {"values": [{}]}, "mark": {"type": "text", "text": "b", "fontSize": 32, "fontWeight": "bold", "color": "black", "align": "center", "baseline": "middle"},
   "encoding": {"x": {"datum": -1.05}, "y": {"datum": 133.3}}},
  {"data": {"values": [{}]}, "mark": {"type": "text", "text": "North-East & Central-North (17.3% of SF)", "fontSize": 21, "fontWeight": "bold", "color": "black", "align": "center", "baseline": "middle"},
   "encoding": {"x": {"datum": 20}, "y": {"datum": 129.2}}},
  {"data": {"values": [{}]}, "mark": {"type": "text", "text": "(Low MCWD - High radiation - High Precipitation)", "fontSize": 21, "fontWeight": "bold", "color": "black", "align": "center", "baseline": "middle"},
   "encoding": {"x": {"datum": 20}, "y": {"datum": 122.2}}}
 ]
},
{
 "width": 615, "height": 425,
 "layer": [
  {"data": {"name": "pts"}, "transform": [{"filter": "datum.p=='c'"}],
   "mark": {"type": "point", "filled": true, "size": 75, "opacity": 1},
   "encoding": {
    "x": {"field": "age", "type": "quantitative", "scale": {"domain": [-1.6, 41.6], "nice": false, "zero": false}, "axis": {"values": [0,10,20,30,40], "title": "Age (years)", "labelPadding": 8, "titlePadding": 15}},
    "y": {"field": "agc", "type": "quantitative", "scale": {"domain": [-4.6, 114.5], "nice": false, "zero": false}, "axis": {"values": [0,20,40,60,80,100], "title": "AGC (Mg C ha⁻¹)", "labelPadding": 12, "titlePadding": 8}},
    "color": {"field": "g", "type": "nominal", "scale": {"domain": ["SN","SB","RN","RB"], "range": ["#3d7fc1","#98d49c","#d65f00","#9a32d6"]},
     "legend": {"labelExpr": "datum.label=='SN' ? 'Single deforestation, Not burnt (56.9%)' : datum.label=='SB' ? 'Single deforestation, Burnt (21.2%)' : datum.label=='RN' ? 'Repeated deforestation, Not burnt (16.4%)' : 'Repeated deforestation, Burnt (5.4%)'"}}
   }},
  {"data": {"name": "cur"}, "transform": [{"filter": "datum.p=='c'"}],
   "mark": {"type": "area", "clip": true, "opacity": 0.5, "interpolate": "monotone"},
   "encoding": {"x": {"field": "age", "type": "quantitative"}, "y": {"field": "lo", "type": "quantitative"}, "y2": {"field": "hi"},
    "fill": {"field": "g", "type": "nominal", "scale": {"domain": ["SN","SB","RN","RB"], "range": ["#92c9f5","#a8d2a8","#fcac5e","#9a35d4"]}, "legend": null}}},
  {"data": {"name": "cur"}, "transform": [{"filter": "datum.p=='c'"}],
   "mark": {"type": "line", "clip": true, "strokeWidth": 1, "interpolate": "monotone"},
   "encoding": {"x": {"field": "age", "type": "quantitative"}, "y": {"field": "m", "type": "quantitative"},
    "stroke": {"field": "g", "type": "nominal", "scale": {"domain": ["SN","SB","RN","RB"], "range": ["#4682b4","#5e8c5e","#8b4513","#5b2c83"]}, "legend": null}}},
  {"data": {"values": [{}]}, "mark": {"type": "rect", "fill": "#98ee98"},
   "encoding": {"x": {"datum": -2.35}, "x2": {"datum": 0.26}, "y": {"datum": 139.5}, "y2": {"datum": 127.2}}},
  {"data": {"values": [{}]}, "mark": {"type": "text", "text": "c", "fontSize": 32, "fontWeight": "bold", "color": "black", "align": "center", "baseline": "middle"},
   "encoding": {"x": {"datum": -1.05}, "y": {"datum": 133.3}}},
  {"data": {"values": [{}]}, "mark": {"type": "text", "text": "South-West & Central region (17% of SF)", "fontSize": 21, "fontWeight": "bold", "color": "black", "align": "center", "baseline": "middle"},
   "encoding": {"x": {"datum": 20}, "y": {"datum": 129.2}}},
  {"data": {"values": [{}]}, "mark": {"type": "text", "text": "(Moderate MCWD - Low radiation - Moderate Precipitation)", "fontSize": 21, "fontWeight": "bold", "color": "black", "align": "center", "baseline": "middle"},
   "encoding": {"x": {"datum": 20}, "y": {"datum": 122.2}}}
 ]
},
{
 "width": 615, "height": 425,
 "layer": [
  {"data": {"name": "pts"}, "transform": [{"filter": "datum.p=='d'"}],
   "mark": {"type": "point", "filled": true, "size": 75, "opacity": 1},
   "encoding": {
    "x": {"field": "age", "type": "quantitative", "scale": {"domain": [-1.6, 41.6], "nice": false, "zero": false}, "axis": {"values": [0,10,20,30,40], "title": "Age (years)", "labelPadding": 8, "titlePadding": 15}},
    "y": {"field": "agc", "type": "quantitative", "scale": {"domain": [-4.6, 114.5], "nice": false, "zero": false}, "axis": {"values": [0,20,40,60,80,100], "labels": false, "title": null}},
    "color": {"field": "g", "type": "nominal", "scale": {"domain": ["SN","SB","RN","RB"], "range": ["#3d7fc1","#98d49c","#d65f00","#9a32d6"]},
     "legend": {"labelExpr": "datum.label=='SN' ? 'Single deforestation, Not burnt (45.4%)' : datum.label=='SB' ? 'Single deforestation, Burnt (23.7%)' : datum.label=='RN' ? 'Repeated deforestation, Not burnt (19.4%)' : 'Repeated deforestation, Burnt (11.5%)'"}}
   }},
  {"data": {"name": "cur"}, "transform": [{"filter": "datum.p=='d'"}],
   "mark": {"type": "area", "clip": true, "opacity": 0.5, "interpolate": "monotone"},
   "encoding": {"x": {"field": "age", "type": "quantitative"}, "y": {"field": "lo", "type": "quantitative"}, "y2": {"field": "hi"},
    "fill": {"field": "g", "type": "nominal", "scale": {"domain": ["SN","SB","RN","RB"], "range": ["#92c9f5","#a8d2a8","#fcac5e","#9a35d4"]}, "legend": null}}},
  {"data": {"name": "cur"}, "transform": [{"filter": "datum.p=='d'"}],
   "mark": {"type": "line", "clip": true, "strokeWidth": 1, "interpolate": "monotone"},
   "encoding": {"x": {"field": "age", "type": "quantitative"}, "y": {"field": "m", "type": "quantitative"},
    "stroke": {"field": "g", "type": "nominal", "scale": {"domain": ["SN","SB","RN","RB"], "range": ["#4682b4","#5e8c5e","#8b4513","#5b2c83"]}, "legend": null}}},
  {"data": {"values": [{}]}, "mark": {"type": "rect", "fill": "#8678e0"},
   "encoding": {"x": {"datum": -2.35}, "x2": {"datum": 0.26}, "y": {"datum": 139.5}, "y2": {"datum": 127.2}}},
  {"data": {"values": [{}]}, "mark": {"type": "text", "text": "d", "fontSize": 32, "fontWeight": "bold", "color": "black", "align": "center", "baseline": "middle"},
   "encoding": {"x": {"datum": -1.05}, "y": {"datum": 133.3}}},
  {"data": {"values": [{}]}, "mark": {"type": "text", "text": "South-East & North region (58.2% of SF)", "fontSize": 21, "fontWeight": "bold", "color": "black", "align": "center", "baseline": "middle"},
   "encoding": {"x": {"datum": 20}, "y": {"datum": 129.2}}},
  {"data": {"values": [{}]}, "mark": {"type": "text", "text": "(Very high MCWD - Moderate radiation - Low Precipitation)", "fontSize": 21, "fontWeight": "bold", "color": "black", "align": "center", "baseline": "middle"},
   "encoding": {"x": {"datum": 20}, "y": {"datum": 122.2}}}
 ]
}
]
}
